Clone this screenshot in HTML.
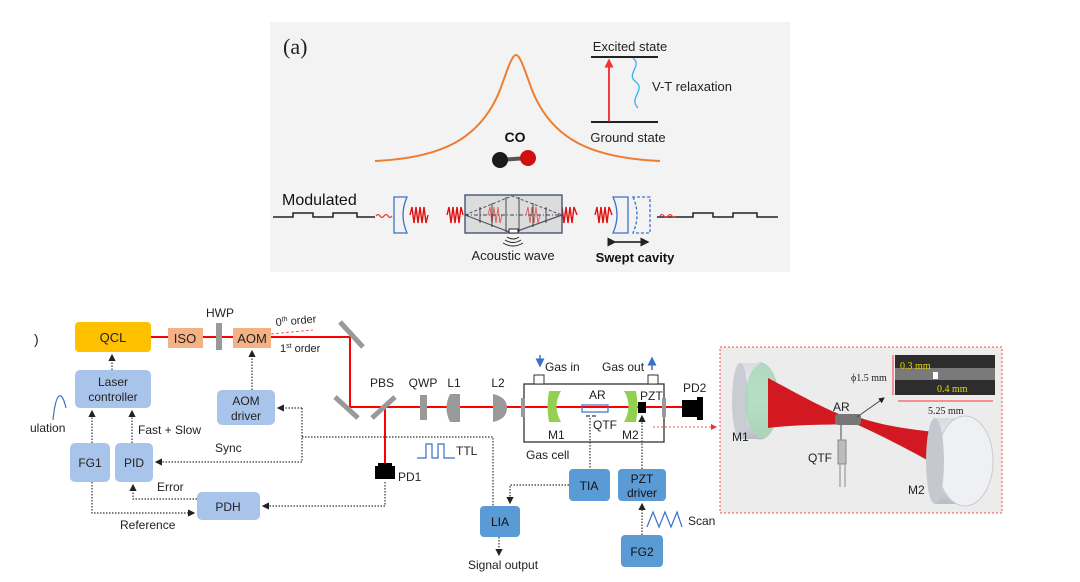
<!DOCTYPE html>
<html><head><meta charset="utf-8"><style>
html,body{margin:0;padding:0;background:#fff;}
svg{display:block;font-family:"Liberation Sans",sans-serif;}
</style></head><body>
<svg width="1080" height="582" viewBox="0 0 1080 582" xmlns="http://www.w3.org/2000/svg">
<defs>
<marker id="ar" markerWidth="6" markerHeight="6" refX="5" refY="3" orient="auto"><path d="M0,0 L6,3 L0,6 z" fill="#222"/></marker>
<marker id="arb" markerWidth="6" markerHeight="6" refX="5" refY="3" orient="auto"><path d="M0,0 L6,3 L0,6 z" fill="#3a70c8"/></marker>
<marker id="arr" markerWidth="6" markerHeight="6" refX="5" refY="3" orient="auto"><path d="M0,0 L6,3 L0,6 z" fill="#e33"/></marker>
<linearGradient id="cyl" x1="0" y1="0" x2="0" y2="1"><stop offset="0" stop-color="#d8dbe0"/><stop offset="0.5" stop-color="#f4f5f7"/><stop offset="1" stop-color="#b8bcc4"/></linearGradient>
</defs>

<!-- TOP PANEL -->
<rect x="270" y="22" width="520" height="250" fill="#f3f3f3"/>
<text x="283" y="54" font-family="Liberation Serif,serif" font-size="22" fill="#222">(a)</text>
<path d="M375,161 C440,158 480,140 500,90 C508,68 512,55 516,55 C520,55 524,68 532,90 C552,140 592,158 660,161" fill="none" stroke="#ed7d31" stroke-width="2"/>
<line x1="591" y1="57" x2="658" y2="57" stroke="#222" stroke-width="2"/>
<line x1="591" y1="122" x2="658" y2="122" stroke="#222" stroke-width="2"/>
<line x1="609" y1="122" x2="609" y2="60" stroke="#e00" stroke-width="1.5" marker-end="url(#arr)"/>
<path d="M633,58 C643,66 625,74 636,82 C646,90 628,98 638,108" fill="none" stroke="#3ab0ee" stroke-width="1.3"/>
<text x="630" y="51" font-size="13" text-anchor="middle" fill="#222">Excited state</text>
<text x="652" y="91" font-size="13" fill="#222">V-T relaxation</text>
<text x="628" y="142" font-size="13" text-anchor="middle" fill="#222">Ground state</text>
<text x="515" y="142" font-size="14" font-weight="bold" text-anchor="middle" fill="#111">CO</text>
<line x1="500" y1="160" x2="528" y2="158" stroke="#555" stroke-width="4"/>
<circle cx="500" cy="160" r="8" fill="#1a1a1a"/>
<circle cx="528" cy="158" r="8" fill="#d01010"/>
<text x="282" y="205" font-size="16" fill="#111">Modulated</text>
<polyline points="273,217 293,217 293,213 313,213 313,217 333,217 333,213 357,213 357,217 375,217" fill="none" stroke="#222" stroke-width="1.5"/>
<polyline points="657,217 693,217 693,213 713,213 713,217 733,217 733,213 757,213 757,217 778,217" fill="none" stroke="#222" stroke-width="1.5"/>
<path d="M376,216 q2,-3 4,0 t4,0 t4,0 t4,0" fill="none" stroke="#e33" stroke-width="1.2"/>
<path d="M660,216 q2,-3 4,0 t4,0 t4,0 t4,0" fill="none" stroke="#e33" stroke-width="1.2"/>
<path d="M394,197 L407,197 Q399,215 407,233 L394,233 Z" fill="none" stroke="#3a70c8" stroke-width="1.3"/>
<path d="M613,197 Q621,215 613,233 L628,233 L628,197 Z" fill="none" stroke="#3a70c8" stroke-width="1.3"/>
<path d="M633,197 Q641,215 633,233 L650,233 L650,197 Z" fill="none" stroke="#3a70c8" stroke-width="1.3" stroke-dasharray="3,2"/>
<g fill="none" stroke="#e01010" stroke-width="1.4">
<polyline points="410,215 412,207 414,223 416,207 418,223 420,207 422,223 424,207 426,223 428,215"/>
<polyline points="447,215 449,207 451,223 453,207 455,223 457,207 459,223 461,207 463,215"/>
<polyline points="560,215 562,207 564,223 566,207 568,223 570,207 572,223 574,207 577,215"/>
<polyline points="595,215 597,207 599,223 601,207 603,223 605,207 607,223 609,207 612,215"/>
</g>
<rect x="465" y="195" width="97" height="38" fill="#dcdcdc" stroke="#3a4a6a" stroke-width="1.3"/>
<g fill="none" stroke="#e01010" stroke-width="1" opacity="0.6">
<polyline points="488,215 490,207 492,223 494,207 496,223 498,207 500,223 502,215"/>
<polyline points="526,215 528,207 530,223 532,207 534,223 536,207 538,223 540,215"/>
</g>
<path d="M465,215 L512,196 L562,215" fill="none" stroke="#556" stroke-dasharray="3,2"/>
<path d="M465,215 L512,233 L562,215" fill="none" stroke="#556" stroke-width="1.2"/>
<line x1="465" y1="215" x2="562" y2="215" stroke="#444" stroke-dasharray="4,2,1,2"/>
<g stroke="#222" stroke-width="0.8">
<line x1="480" y1="207" x2="480" y2="223"/><line x1="492" y1="203" x2="492" y2="227"/><line x1="506" y1="197" x2="506" y2="232"/>
<line x1="519" y1="197" x2="519" y2="232"/><line x1="533" y1="203" x2="533" y2="227"/><line x1="546" y1="207" x2="546" y2="223"/>
</g>
<rect x="509" y="229" width="9" height="4" fill="#fff" stroke="#222"/>
<path d="M507,237 q6,4 12,0 M505,240 q8,5 16,0 M503,243 q10,6 20,0" fill="none" stroke="#222" stroke-width="1"/>
<text x="513" y="260" font-size="13" text-anchor="middle" fill="#222">Acoustic wave</text>
<line x1="615" y1="242" x2="648" y2="242" stroke="#111" stroke-width="1.5" marker-end="url(#ar)" marker-start="url(#ar)"/>
<text x="635" y="262" font-size="13" font-weight="bold" text-anchor="middle" fill="#111">Swept cavity</text>

<!-- BOTTOM DIAGRAM -->
<g stroke="#f00" stroke-width="2" fill="none">
<polyline points="151,337 350,337 350,407 682,407"/>
<line x1="385" y1="407" x2="385" y2="463"/>
</g>
<line x1="271" y1="334" x2="313" y2="330" stroke="#f55" stroke-dasharray="3,2"/>
<text x="276" y="326" font-size="11" fill="#222" transform="rotate(-5 276 326)">0<tspan font-size="7" dy="-4">th</tspan><tspan dy="4"> order</tspan></text>
<text x="280" y="352" font-size="11" fill="#222">1<tspan font-size="7" dy="-4">st</tspan><tspan dy="4"> order</tspan></text>
<g stroke="#999" stroke-width="5">
<line x1="340" y1="322" x2="363" y2="347"/>
<line x1="335" y1="397" x2="358" y2="418"/>
<line x1="372" y1="418" x2="395" y2="397"/>
</g>
<rect x="75" y="322" width="76" height="30" rx="4" fill="#ffc000"/>
<text x="113" y="342" font-size="13" text-anchor="middle" fill="#222">QCL</text>
<rect x="168" y="328" width="35" height="20" fill="#f4b183"/>
<text x="185" y="343" font-size="13" text-anchor="middle" fill="#222">ISO</text>
<rect x="216" y="323" width="6" height="27" fill="#999"/>
<text x="220" y="317" font-size="12" text-anchor="middle" fill="#222">HWP</text>
<rect x="233" y="328" width="38" height="20" fill="#f4b183"/>
<text x="252" y="343" font-size="13" text-anchor="middle" fill="#222">AOM</text>
<text x="34" y="344" font-size="14" fill="#222">)</text>

<g fill="#a9c4eb">
<rect x="75" y="370" width="76" height="38" rx="5"/>
<rect x="217" y="390" width="58" height="35" rx="5"/>
<rect x="70" y="443" width="40" height="39" rx="5"/>
<rect x="115" y="443" width="38" height="39" rx="5"/>
<rect x="197" y="492" width="63" height="28" rx="5"/>
</g>
<g font-size="12" fill="#222" text-anchor="middle">
<text x="113" y="386">Laser</text><text x="113" y="401">controller</text>
<text x="246" y="405">AOM</text><text x="246" y="420">driver</text>
<text x="90" y="467">FG1</text><text x="134" y="467">PID</text>
<text x="228" y="511">PDH</text>
</g>
<g fill="#5b9bd5">
<rect x="480" y="506" width="40" height="31" rx="4"/>
<rect x="569" y="469" width="41" height="32" rx="4"/>
<rect x="618" y="469" width="48" height="32" rx="4"/>
<rect x="621" y="535" width="42" height="32" rx="4"/>
</g>
<g font-size="12" fill="#111" text-anchor="middle">
<text x="500" y="526">LIA</text><text x="589" y="490">TIA</text>
<text x="642" y="483">PZT</text><text x="642" y="497">driver</text>
<text x="642" y="556">FG2</text>
</g>

<g stroke="#333" stroke-width="1.2" stroke-dasharray="1.5,1.5" fill="none">
<line x1="112" y1="370" x2="112" y2="355" marker-end="url(#ar)"/>
<line x1="92" y1="443" x2="92" y2="411" marker-end="url(#ar)"/>
<line x1="132" y1="443" x2="132" y2="411" marker-end="url(#ar)"/>
<line x1="252" y1="390" x2="252" y2="351" marker-end="url(#ar)"/>
<polyline points="302,408 302,462 156,462" marker-end="url(#ar)"/>
<line x1="302" y1="408" x2="278" y2="408" marker-end="url(#ar)"/>
<polyline points="302,437 493,437 493,506"/>
<polyline points="385,482 385,506 263,506" marker-end="url(#ar)"/>
<polyline points="197,499 133,499 133,485" marker-end="url(#ar)"/>
<polyline points="92,482 92,513 194,513" marker-end="url(#ar)"/>
<polyline points="569,485 510,485 510,503" marker-end="url(#ar)"/>
<line x1="590" y1="418" x2="590" y2="469"/>
<line x1="642" y1="469" x2="642" y2="416" marker-end="url(#ar)"/>
<line x1="642" y1="535" x2="642" y2="504" marker-end="url(#ar)"/>
<line x1="499" y1="537" x2="499" y2="555" marker-end="url(#ar)"/>
</g>
<g font-size="12" fill="#222">
<text x="30" y="432">ulation</text>
<text x="138" y="434">Fast + Slow</text>
<text x="215" y="452">Sync</text>
<text x="157" y="491">Error</text>
<text x="120" y="529">Reference</text>
<text x="398" y="481">PD1</text>
<text x="456" y="455">TTL</text>
<text x="468" y="569">Signal output</text>
<text x="688" y="525">Scan</text>
</g>
<path d="M53,420 C56,390 62,390 66,408" fill="none" stroke="#3a70c8" stroke-width="1.2"/>
<polyline points="417,458 426,458 426,444 432,444 432,458 438,458 438,444 444,444 444,458 455,458" fill="none" stroke="#3a70c8" stroke-width="1.2"/>
<polyline points="647,527 653,512 659,527 665,512 671,527 677,512 682,527" fill="none" stroke="#3a70c8" stroke-width="1.2"/>
<rect x="378" y="463" width="14" height="4" fill="#000"/>
<rect x="375" y="466" width="20" height="13" fill="#000"/>
<g font-size="12" fill="#222" text-anchor="middle">
<text x="382" y="387">PBS</text><text x="423" y="387">QWP</text>
<text x="454" y="387">L1</text><text x="498" y="387">L2</text>
</g>
<rect x="420" y="395" width="7" height="25" fill="#999"/>
<path d="M450,394 L460,394 L460,422 L450,422 Q443,408 450,394 Z" fill="#999"/>
<path d="M493,394 Q507,397 507,408 Q507,419 493,422 Z" fill="#999"/>
<rect x="524" y="384" width="140" height="58" fill="none" stroke="#333" stroke-width="1.3"/>
<rect x="534" y="375" width="10" height="9" fill="#fff" stroke="#333"/>
<rect x="648" y="375" width="10" height="9" fill="#fff" stroke="#333"/>
<line x1="540" y1="355" x2="540" y2="366" stroke="#3a70c8" stroke-width="1.5" marker-end="url(#arb)"/>
<line x1="652" y1="370" x2="652" y2="358" stroke="#3a70c8" stroke-width="1.5" marker-end="url(#arb)"/>
<rect x="521" y="398" width="4" height="19" fill="#999"/>
<rect x="662" y="398" width="4" height="19" fill="#999"/>
<path d="M549,391 L561,391 Q552,406 561,422 L549,422 Q546,406 549,391 Z" fill="#92d050"/>
<path d="M624,391 L636,391 Q639,406 636,422 L624,422 Q633,406 624,391 Z" fill="#92d050"/>
<rect x="582" y="405" width="26" height="7" fill="none" stroke="#3a70c8" stroke-width="1.2"/>
<line x1="586" y1="416" x2="590" y2="416" stroke="#555" stroke-width="1.5"/><line x1="592" y1="416" x2="596" y2="416" stroke="#555" stroke-width="1.5"/>
<rect x="638" y="402" width="8" height="11" fill="#000"/>
<rect x="682" y="400" width="15" height="17" fill="#000"/><rect x="697" y="397" width="6" height="23" fill="#000"/>
<g font-size="12" fill="#222">
<text x="545" y="371">Gas in</text><text x="602" y="371">Gas out</text>
<text x="589" y="399">AR</text><text x="593" y="429">QTF</text>
<text x="548" y="439">M1</text><text x="622" y="439">M2</text>
<text x="640" y="400">PZT</text><text x="683" y="392">PD2</text>
<text x="526" y="459">Gas cell</text>
</g>
<line x1="653" y1="427" x2="716" y2="427" stroke="#f55" stroke-dasharray="2,2" marker-end="url(#arr)"/>

<rect x="720" y="347" width="282" height="166" fill="#ececec" stroke="#f44" stroke-dasharray="2,2"/>
<ellipse cx="760" cy="401" rx="18" ry="38" fill="url(#cyl)" stroke="#bbb"/>
<rect x="740" y="363" width="20" height="76" fill="url(#cyl)"/>
<ellipse cx="740" cy="401" rx="8" ry="38" fill="#c9cdd3"/>
<ellipse cx="762" cy="401" rx="17" ry="37" fill="#a8d8b8" opacity="0.8"/>
<path d="M768,378 C800,395 830,412 848,417 L848,424 C830,425 800,424 768,428 Z" fill="#d21820"/>
<path d="M858,417 C880,425 910,430 945,433 L945,470 C910,450 880,435 858,425 Z" fill="#d21820"/>
<rect x="935" y="418" width="30" height="86" fill="url(#cyl)"/>
<ellipse cx="965" cy="461" rx="28" ry="45" fill="#eef0f3" stroke="#ccc"/>
<ellipse cx="935" cy="461" rx="9" ry="43" fill="#c5c9cf"/>
<rect x="835" y="414" width="26" height="11" rx="3" fill="#777"/>
<rect x="838" y="440" width="8" height="24" fill="#bbb" stroke="#888"/>
<line x1="840" y1="464" x2="840" y2="487" stroke="#aaa" stroke-width="1.5"/>
<line x1="845" y1="464" x2="845" y2="487" stroke="#aaa" stroke-width="1.5"/>
<line x1="841" y1="425" x2="841" y2="440" stroke="#999" stroke-width="2"/>
<line x1="857" y1="417" x2="884" y2="398" stroke="#444" marker-end="url(#ar)"/>
<rect x="895" y="355" width="100" height="40" fill="#2d2d2d"/>
<rect x="895" y="368" width="100" height="12" fill="#7a7a7a"/>
<rect x="933" y="372" width="5" height="7" fill="#fff"/>
<text x="900" y="369" font-family="Liberation Serif,serif" font-size="10" fill="#e8d800">0.3 mm</text>
<text x="937" y="392" font-family="Liberation Serif,serif" font-size="10" fill="#e8d800">0.4 mm</text>
<line x1="893" y1="355" x2="893" y2="395" stroke="#f33"/>
<line x1="898" y1="401" x2="993" y2="401" stroke="#f33"/>
<g font-size="12" fill="#222">
<text x="851" y="381" font-family="Liberation Serif,serif" font-size="10">ϕ1.5 mm</text>
<text x="928" y="414" font-family="Liberation Serif,serif" font-size="10">5.25 mm</text>
<text x="833" y="411">AR</text><text x="808" y="462">QTF</text>
<text x="732" y="441">M1</text><text x="908" y="494">M2</text>
</g>
</svg>
</body></html>
